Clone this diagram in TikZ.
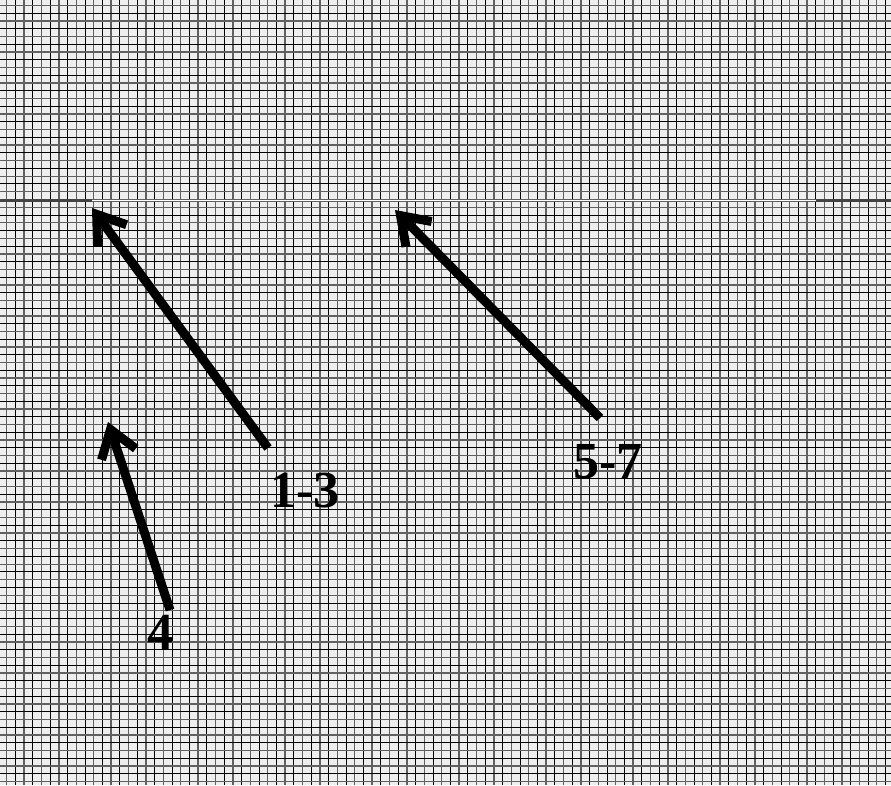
\documentclass[tikz,border=0pt]{standalone}
\usepackage{fontspec}
\setmainfont{Liberation Serif}
\usetikzlibrary{arrows.meta}
\definecolor{paper}{HTML}{EEEEEE}
\definecolor{gridgray}{HTML}{606060}
\begin{document}
\begin{tikzpicture}[x=1pt,y=-1pt,
  gridA/.style={black,line width=1pt},
  gridB/.style={gridgray,line width=1.4pt},
  pointer/.style={line width=9pt,-{Straight Barb[length=26pt,width=36pt,line width=9pt]}},
  tag/.style={font=\bfseries\fontsize{52}{52}\selectfont,inner sep=0pt}]
\useasboundingbox (0,0) rectangle (891,785);
\fill[paper] (0,0) rectangle (891,785);
% vertical grid lines
\foreach \k in {0,...,101}{
  \pgfmathsetmacro\xx{6.7+8.7*\k}
  \ifodd\k
    \draw[gridA] (\xx,0) -- (\xx,785);
  \else
    \draw[gridB] (\xx,0) -- (\xx,785);
  \fi
}
% horizontal grid lines
\foreach \k in {0,...,100}{
  \pgfmathsetmacro\yy{5.5+7.76*\k}
  \ifodd\k
    \draw[gridA] (0,\yy) -- (891,\yy);
  \else
    \draw[gridB] (0,\yy) -- (891,\yy);
  \fi
}
% special horizontal line
\draw[gridgray!70!black,line width=2.4pt] (0,200.5) -- (92,200.5);
\draw[gridgray!70!black,line width=2.4pt] (816,200.5) -- (891,200.5);
\draw[gridgray,line width=3.6pt] (92,200.5) -- (816,200.5);
\draw[white,line width=1.8pt] (92,200.5) -- (816,200.5);
% labels
\node[tag] (l13) at (305,491) {1-3};
\node[tag] (l57) at (608,462) {5-7};
\node[tag] (l4) at (160,632) {4};
% arrow ends
\coordinate (s13) at (268,448);
\coordinate (t13) at (92,208);
\coordinate (s57) at (600,418);
\coordinate (t57) at (395,210);
\coordinate (s4) at (170,610);
\coordinate (t4) at (108,422);
\draw[pointer] (s13) -- (t13);
\draw[pointer] (s57) -- (t57);
\draw[pointer] (s4) -- (t4);
\end{tikzpicture}
\end{document}
